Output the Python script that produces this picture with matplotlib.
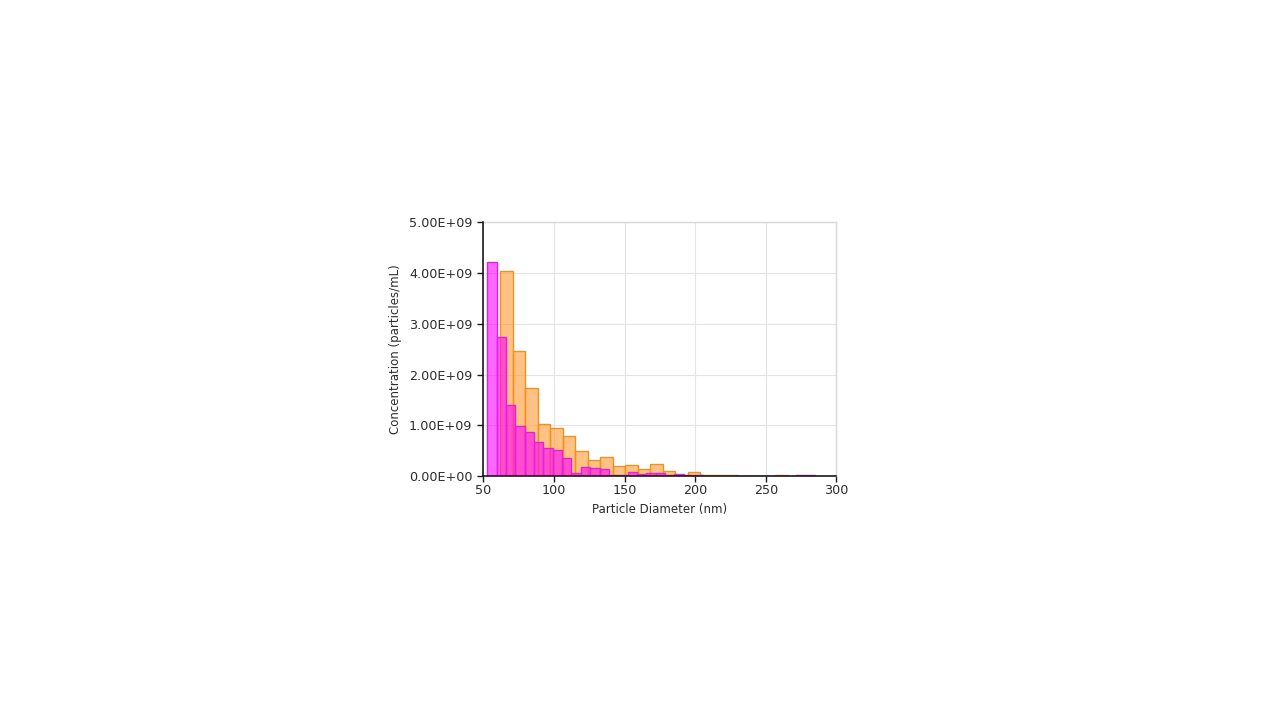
import numpy as np
import matplotlib.pyplot as plt
from matplotlib.ticker import FuncFormatter

# NTA size distributions (concentration per size bin, particles/mL)
pink_first_bin = 52.7    # nm, left edge of first bin
pink_bin_width = 6.63    # nm
pink_conc = [4.22e9, 2.73e9, 1.40e9, 0.99e9, 0.87e9, 0.67e9, 0.56e9, 0.51e9,
             0.35e9, 0.05e9, 0.18e9, 0.15e9, 0.13e9, 0.01e9, 0.02e9, 0.085e9,
             0.035e9, 0.05e9, 0.06e9, 0.01e9, 0.03e9, 0.02e9, 0.01e9, 0.005e9,
             0.005e9, 0.005e9, 0.0, 0.0, 0.0, 0.0, 0.0, 0.0, 0.0, 0.015e9,
             0.015e9]

orange_first_bin = 61.8  # nm
orange_bin_width = 8.86  # nm
orange_conc = [4.04e9, 2.47e9, 1.74e9, 1.03e9, 0.95e9, 0.79e9, 0.49e9, 0.31e9,
               0.37e9, 0.19e9, 0.21e9, 0.13e9, 0.23e9, 0.10e9, 0.02e9, 0.07e9,
               0.01e9, 0.01e9, 0.01e9, 0.0, 0.0, 0.0, 0.02e9]

x_ticks = [50, 100, 150, 200, 250, 300]
y_ticks = [0, 1e9, 2e9, 3e9, 4e9, 5e9]

pink_edges = pink_first_bin + pink_bin_width * np.arange(len(pink_conc))
orange_edges = orange_first_bin + orange_bin_width * np.arange(len(orange_conc))

plt.rcParams['font.family'] = ['DejaVu Sans']
fig = plt.figure(figsize=(12.8, 7.2), dpi=100)
ax = fig.add_axes([0.3776, 0.3389, 0.2759, 0.3524])

ax.bar(orange_edges, orange_conc, width=orange_bin_width, align='edge',
       facecolor=(1.0, 0.6, 0.2, 0.6), edgecolor='#f0921e', linewidth=1.0, zorder=2)
ax.bar(pink_edges, pink_conc, width=pink_bin_width, align='edge',
       facecolor=(1.0, 0.0, 1.0, 0.6), edgecolor='#e51ee5', linewidth=1.0, zorder=3)

ax.set_xlim(50, 300)
ax.set_ylim(0, 5e9)
ax.set_xticks(x_ticks)
ax.set_yticks(y_ticks)
ax.yaxis.set_major_formatter(FuncFormatter(lambda v, p: '%.2E' % v))

ax.grid(True, color='#e4e4e4', linewidth=0.8, zorder=0)
ax.set_axisbelow(True)
for s in ['top', 'right']:
    ax.spines[s].set_color('#d8d8d8')
    ax.spines[s].set_linewidth(1.0)
for s in ['left', 'bottom']:
    ax.spines[s].set_color('#1a1a1a')
    ax.spines[s].set_linewidth(1.2)
    ax.spines[s].set_zorder(5)

ax.tick_params(axis='both', direction='out', length=4, width=1, color='#1a1a1a',
               labelsize=9.2, labelcolor='#2b2b2b', pad=2)
ax.tick_params(axis='y', pad=4)

ax.set_xlabel('Particle Diameter (nm)', fontsize=8.5, color='#2b2b2b', labelpad=4)
ax.set_ylabel('Concentration (particles/mL)', fontsize=8.5, color='#2b2b2b', labelpad=5)

plt.savefig('out.png', dpi=100)
